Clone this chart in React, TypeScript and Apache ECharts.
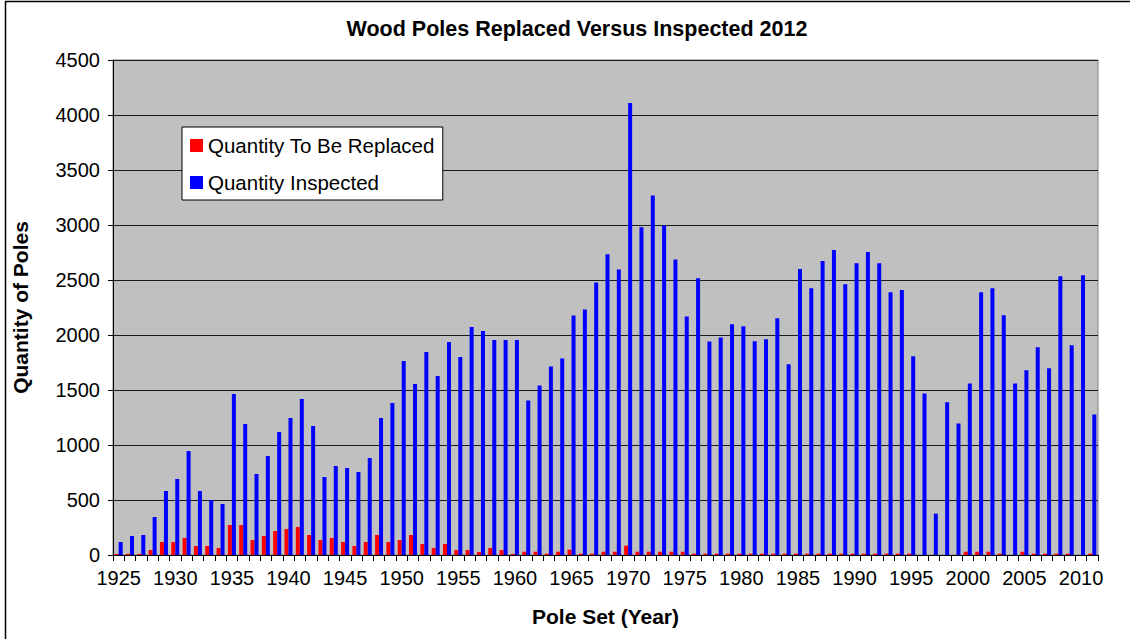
import React, { useEffect, useRef } from "react";
import * as echarts from "echarts";

const years: string[] = [];
for (let y = 1925; y <= 2011; y++) years.push(String(y));

const replaced = [
  10, 10, 10, 45, 118, 118, 155, 82, 82, 64,
  273, 273, 136, 173, 218, 236, 255, 182, 136, 155,
  118, 82, 118, 182, 118, 136, 182, 100, 64, 100,
  45, 45, 27, 64, 45, 10, 30, 30, 12, 30,
  48, 12, 12, 30, 30, 85, 30, 30, 30, 30,
  30, 12, 12, 12, 12, 12, 12, 12, 12, 12,
  12, 12, 12, 12, 12, 12, 12, 12, 12, 12,
  12, 0, 0, 0, 0, 30, 30, 30, 12, 0,
  30, 12, 12, 12, 12, 0, 12,
];

const inspected = [
  118, 173, 182, 345, 582, 691, 945, 582, 500, 464,
  1464, 1191, 736, 900, 1118, 1245, 1418, 1173, 709, 809,
  791, 755, 882, 1245, 1382, 1764, 1555, 1845, 1627, 1936,
  1800, 2073, 2036, 1955, 1955, 1955, 1405, 1540, 1713, 1786,
  2177, 2232, 2478, 2733, 2595, 4108, 2979, 3268, 2995, 2687,
  2168, 2515, 1942, 1978, 2098, 2080, 1943, 1961, 2153, 1734,
  2599, 2426, 2672, 2772, 2462, 2653, 2754, 2653, 2389, 2408,
  1806, 1469, 376, 1388, 1196, 1560, 2389, 2426, 2180, 1560,
  1679, 1888, 1697, 2535, 1907, 2544, 1278,
];

const FONT = "Arial, 'Liberation Sans', sans-serif";

export default function App() {
  const ref = useRef<HTMLDivElement>(null);
  useEffect(() => {
    if (!ref.current) return;
    const chart = echarts.init(ref.current, undefined, { renderer: "svg" });
    chart.setOption({
      animation: false,
      backgroundColor: "#ffffff",
      title: {
        text: "Wood Poles Replaced Versus Inspected 2012",
        left: 572,
        textAlign: "center",
        top: 13,
        textStyle: { fontFamily: FONT, fontSize: 21.5, fontWeight: "bold", color: "#000" },
      },
      legend: {
        orient: "vertical",
        left: 182,
        top: 127,
        backgroundColor: "#ffffff",
        borderColor: "#000000",
        borderWidth: 1,
        padding: [8, 8, 7, 8],
        itemWidth: 13,
        itemHeight: 13,
        itemGap: 16,
        icon: "rect",
        textStyle: { fontFamily: FONT, fontSize: 20.5, color: "#000", lineHeight: 20 },
        data: ["Quantity To Be Replaced", "Quantity Inspected"],
      },
      grid: {
        left: 113,
        right: 32,
        top: 60,
        bottom: 84,
        show: true,
        backgroundColor: "#c0c0c0",
        borderColor: "#808080",
        borderWidth: 1,
      },
      xAxis: {
        type: "category",
        data: years,
        name: "Pole Set (Year)",
        nameLocation: "middle",
        nameGap: 51,
        nameTextStyle: { fontFamily: FONT, fontSize: 21, fontWeight: "bold", color: "#000" },
        axisLine: { lineStyle: { color: "#000", width: 1 } },
        axisTick: { show: true, interval: 0, length: 6, lineStyle: { color: "#000" } },
        axisLabel: { interval: 4, margin: 13, fontFamily: FONT, fontSize: 20, color: "#000" },
        splitLine: { show: false },
      },
      yAxis: {
        type: "value",
        min: 0,
        max: 4500,
        interval: 500,
        name: "Quantity of Poles",
        nameLocation: "middle",
        nameGap: 82,
        nameTextStyle: { fontFamily: FONT, fontSize: 21, fontWeight: "bold", color: "#000" },
        axisLine: { show: true, lineStyle: { color: "#000", width: 1 } },
        axisTick: { show: true, length: 5, lineStyle: { color: "#000" } },
        axisLabel: {
          margin: 13,
          fontFamily: FONT,
          fontSize: 20,
          color: "#000",
          formatter: (v: number) => String(v),
        },
        splitLine: { show: true, lineStyle: { color: "#1a1a1a", width: 1 } },
      },
      series: [
        {
          name: "Quantity To Be Replaced",
          type: "bar",
          data: replaced,
          barWidth: 4,
          barGap: "0%",
          itemStyle: { color: "#ff0000" },
        },
        {
          name: "Quantity Inspected",
          type: "bar",
          data: inspected,
          barWidth: 4,
          barGap: "0%",
          itemStyle: { color: "#0000ff" },
        },
      ],
      graphic: [
        { type: "line", shape: { x1: 5.5, y1: 1, x2: 5.5, y2: 639 }, style: { stroke: "#000", lineWidth: 1.5 } },
        { type: "line", shape: { x1: 5, y1: 1.5, x2: 1130, y2: 1.5 }, style: { stroke: "#000", lineWidth: 1.5 } },
      ],
    });
    return () => chart.dispose();
  }, []);
  return (
    <div
      ref={ref}
      style={{ position: "fixed", left: 0, top: 0, width: 1130, height: 639 }}
    />
  );
}
